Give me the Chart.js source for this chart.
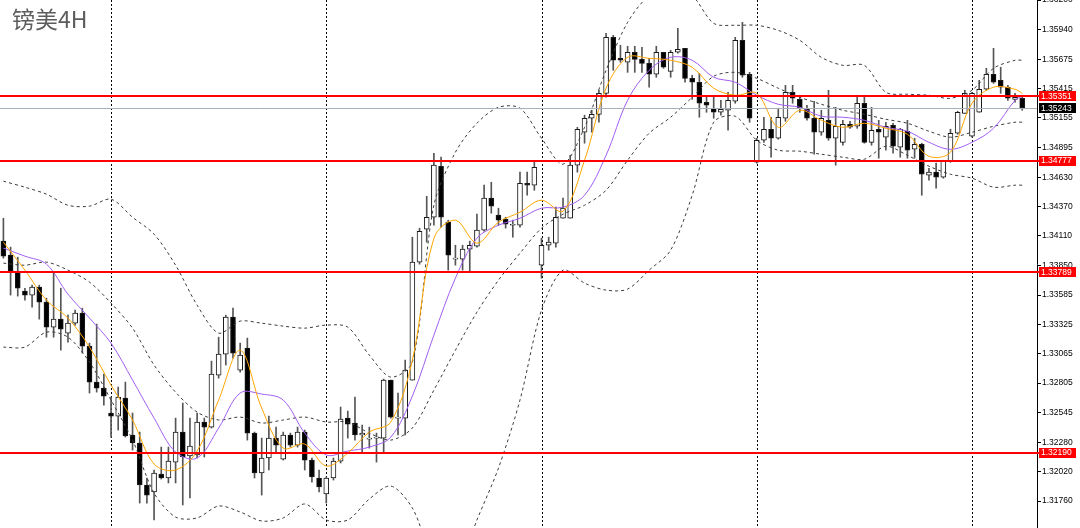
<!DOCTYPE html>
<html>
<head>
<meta charset="utf-8">
<script src="https://cdn.jsdelivr.net/npm/chart.js@4.4.1/dist/chart.umd.min.js"></script>
<style>
    html, body { margin: 0; padding: 0; background: #fff; }
    #wrap { position: relative; width: 1080px; height: 528px; }
    #title { position: absolute; left: 12px; top: 7px; font: 23px/1 "Noto Sans CJK SC", sans-serif; color: #5c5c5c; }
</style>
</head>
<body>
<div id="wrap">
    <canvas id="chart" width="1080" height="528"></canvas>
    <div id="title">镑美4H</div>
</div>
<script>
// GBPUSD 4H candles (index = bar number)
const opens = [1.34063,1.33939,1.33788,1.33620,1.33585,1.33655,1.33522,1.33301,1.33372,1.33248,1.33336,1.33425,1.33133,1.32814,1.32761,1.32540,1.32513,1.32672,1.32345,1.32274,1.31902,1.31840,1.31999,1.31964,1.32105,1.32371,1.32159,1.32168,1.32460,1.32415,1.32876,1.33062,1.33390,1.32920,1.33115,1.32362,1.32008,1.32141,1.32318,1.32132,1.32345,1.32256,1.32371,1.32123,1.31964,1.31822,1.31964,1.32114,1.32495,1.32451,1.32345,1.32309,1.32318,1.32318,1.32832,1.32495,1.32495,1.32832,1.33877,1.34169,1.34275,1.34727,1.34231,1.33903,1.33903,1.33992,1.34018,1.34160,1.34444,1.34293,1.34258,1.34204,1.34204,1.34576,1.34559,1.33850,1.34027,1.34045,1.34266,1.34266,1.34736,1.35028,1.35152,1.35187,1.35373,1.35869,1.35683,1.35648,1.35737,1.35674,1.35639,1.35542,1.35737,1.35568,1.35737,1.35772,1.35506,1.35471,1.35294,1.35241,1.35205,1.35223,1.35303,1.35843,1.35542,1.34762,1.34957,1.35055,1.34975,1.35152,1.35382,1.35320,1.35241,1.35152,1.35028,1.35134,1.34975,1.34939,1.35099,1.35081,1.35285,1.34939,1.35055,1.34984,1.35090,1.34895,1.35037,1.34877,1.34922,1.34647,1.34674,1.34630,1.34771,1.35019,1.35196,1.34993,1.35205,1.35409,1.35542,1.35488,1.35427,1.35320,1.35329];
const highs = [1.34266,1.34010,1.33921,1.33646,1.33673,1.33673,1.33558,1.33779,1.33646,1.33407,1.33452,1.33469,1.33159,1.33328,1.32885,1.32681,1.32770,1.32814,1.32540,1.32371,1.31964,1.32035,1.32238,1.32238,1.32495,1.32628,1.32495,1.32540,1.32495,1.33000,1.33212,1.33407,1.33469,1.33159,1.33204,1.32371,1.32318,1.32513,1.32415,1.32371,1.32362,1.32415,1.32389,1.32141,1.32035,1.31973,1.32141,1.32593,1.32557,1.32681,1.32433,1.32415,1.32362,1.32841,1.32832,1.32717,1.33009,1.34098,1.34178,1.34461,1.34842,1.34807,1.34249,1.34027,1.34027,1.34063,1.34302,1.34559,1.34585,1.34355,1.34275,1.34249,1.34674,1.34674,1.34762,1.34089,1.34098,1.34364,1.34444,1.34824,1.35072,1.35179,1.35223,1.35400,1.35905,1.35887,1.35799,1.35790,1.35790,1.35781,1.35683,1.35790,1.35737,1.35754,1.35949,1.35772,1.35533,1.35550,1.35338,1.35338,1.35311,1.35382,1.35869,1.36002,1.35559,1.34975,1.35161,1.35161,1.35241,1.35444,1.35444,1.35356,1.35267,1.35303,1.35223,1.35400,1.35249,1.35134,1.35125,1.35356,1.35356,1.35249,1.35134,1.35117,1.35108,1.35063,1.35134,1.34975,1.34931,1.34709,1.34754,1.34780,1.35055,1.35214,1.35400,1.35382,1.35488,1.35595,1.35772,1.35604,1.35444,1.35373,1.35338];
const lows = [1.33912,1.33585,1.33576,1.33540,1.33478,1.33372,1.33212,1.33212,1.33097,1.33168,1.33319,1.33071,1.32717,1.32725,1.32610,1.32327,1.32389,1.32327,1.32212,1.31742,1.31742,1.31592,1.31955,1.31920,1.31920,1.31725,1.31787,1.32141,1.32150,1.32407,1.32849,1.32965,1.33027,1.32903,1.32300,1.31964,1.31813,1.32035,1.32185,1.32123,1.32238,1.32238,1.32035,1.31928,1.31840,1.31742,1.31946,1.32097,1.32318,1.32300,1.32185,1.32229,1.32105,1.32194,1.32495,1.32345,1.32345,1.32832,1.33859,1.34054,1.34204,1.34187,1.33806,1.33850,1.33806,1.33788,1.34010,1.34151,1.34311,1.34204,1.34178,1.34098,1.34187,1.34470,1.34514,1.33735,1.33983,1.34010,1.34266,1.34266,1.34674,1.34931,1.35028,1.35117,1.35338,1.35577,1.35648,1.35559,1.35559,1.35559,1.35427,1.35515,1.35595,1.35515,1.35728,1.35471,1.35320,1.35161,1.35205,1.35152,1.35179,1.35046,1.35285,1.35515,1.35117,1.34754,1.34939,1.34807,1.34966,1.35125,1.35285,1.35205,1.35134,1.34833,1.35001,1.34957,1.34736,1.34913,1.35063,1.35063,1.34931,1.34913,1.34798,1.34869,1.34842,1.34807,1.34798,1.34798,1.34470,1.34603,1.34532,1.34621,1.34762,1.35010,1.35196,1.34984,1.35205,1.35400,1.35462,1.35373,1.35311,1.35294,1.35223];
const closes = [1.33930,1.33797,1.33646,1.33585,1.33655,1.33522,1.33301,1.33372,1.33283,1.33336,1.33425,1.33133,1.32814,1.32761,1.32690,1.32513,1.32681,1.32336,1.32274,1.31902,1.31813,1.32008,1.31964,1.32114,1.32371,1.32150,1.32247,1.32460,1.32415,1.32885,1.33062,1.33390,1.33071,1.33053,1.32362,1.32008,1.32141,1.32318,1.32256,1.32345,1.32256,1.32371,1.32123,1.31973,1.31884,1.31964,1.32114,1.32486,1.32442,1.32345,1.32362,1.32318,1.32327,1.32832,1.32504,1.32504,1.32920,1.33877,1.34151,1.34275,1.34736,1.34275,1.33939,1.33912,1.33992,1.34027,1.34160,1.34444,1.34373,1.34249,1.34213,1.34213,1.34576,1.34559,1.34718,1.34027,1.34054,1.34275,1.34355,1.34736,1.35055,1.35152,1.35187,1.35373,1.35869,1.35666,1.35666,1.35737,1.35674,1.35639,1.35542,1.35737,1.35604,1.35737,1.35763,1.35506,1.35471,1.35285,1.35267,1.35205,1.35232,1.35311,1.35843,1.35533,1.35152,1.34957,1.35055,1.34975,1.35161,1.35382,1.35329,1.35241,1.35152,1.35028,1.35152,1.34975,1.35081,1.35099,1.35072,1.35285,1.34939,1.35046,1.35028,1.35081,1.34904,1.35055,1.34869,1.34922,1.34656,1.34674,1.34630,1.34771,1.35019,1.35205,1.35373,1.35373,1.35409,1.35542,1.35471,1.35427,1.35329,1.35338,1.35243];

// indicator lines, sampled every 3 bars
const lineIdx = [0,3,6,9,12,15,18,21,24,27,30,33,36,39,42,45,48,51,54,57,60,63,66,69,72,75,78,81,84,87,90,93,96,99,102,105,108,111,114,117,120,123,126,129,132,135,138,141,142];
const bbUpper = [1.34594,1.34541,1.34479,1.34381,1.34373,1.34435,1.34275,1.34125,1.33850,1.33496,1.33248,1.33354,1.33336,1.33310,1.33292,1.33319,1.33301,1.33053,1.32858,1.32991,1.34381,1.34851,1.35108,1.35249,1.35241,1.34975,1.34745,1.35072,1.35577,1.36002,1.36241,1.36330,1.36241,1.35993,1.35976,1.35976,1.35931,1.35843,1.35692,1.35621,1.35621,1.35382,1.35365,1.35356,1.35329,1.35400,1.35595,1.35666,1.35666];
const bbMiddle = [1.33868,1.33850,1.33877,1.33806,1.33700,1.33514,1.33292,1.32965,1.32725,1.32548,1.32478,1.32504,1.32451,1.32478,1.32504,1.32460,1.32460,1.32362,1.32300,1.32407,1.32743,1.33097,1.33434,1.33717,1.33956,1.34178,1.34302,1.34381,1.34514,1.34780,1.35019,1.35161,1.35338,1.35524,1.35559,1.35506,1.35418,1.35338,1.35276,1.35223,1.35187,1.35143,1.35108,1.35037,1.34984,1.35028,1.35081,1.35117,1.35117];
const bbLower = [1.33124,1.33124,1.33257,1.33212,1.32991,1.32655,1.32300,1.31831,1.31618,1.31610,1.31716,1.31663,1.31583,1.31610,1.31734,1.31592,1.31592,1.31778,1.31893,1.31698,1.31238,1.31105,1.31592,1.32052,1.32655,1.33452,1.33806,1.33691,1.33629,1.33638,1.33806,1.33983,1.34470,1.35117,1.35170,1.34957,1.34869,1.34860,1.34833,1.34807,1.34789,1.34904,1.34824,1.34727,1.34656,1.34621,1.34541,1.34559,1.34559];
const maFast = [1.34054,1.33806,1.33540,1.33381,1.33124,1.32787,1.32478,1.32088,1.32035,1.32203,1.32655,1.33097,1.32584,1.32229,1.32265,1.32070,1.32185,1.32371,1.32460,1.33009,1.34089,1.34249,1.34045,1.34231,1.34319,1.34426,1.34328,1.34780,1.35418,1.35692,1.35683,1.35666,1.35604,1.35418,1.35356,1.35373,1.35072,1.35223,1.35134,1.35072,1.35108,1.35063,1.35010,1.34815,1.34851,1.35285,1.35427,1.35409,1.35373];
const maSlow = [1.34001,1.33930,1.33859,1.33593,1.33381,1.33159,1.32832,1.32495,1.32194,1.32141,1.32407,1.32717,1.32708,1.32655,1.32362,1.32168,1.32203,1.32238,1.32327,1.32690,1.33230,1.33735,1.34089,1.34204,1.34266,1.34355,1.34364,1.34470,1.34824,1.35311,1.35577,1.35692,1.35666,1.35515,1.35471,1.35356,1.35276,1.35249,1.35170,1.35161,1.35134,1.35072,1.35037,1.34939,1.34877,1.34939,1.35063,1.35311,1.35347];

const priceTicks = [1.36200,1.35940,1.35675,1.35415,1.35155,1.34895,1.34630,1.34370,1.34110,1.33850,1.33585,1.33325,1.33065,1.32805,1.32545,1.32280,1.32020,1.31760];
const levels = [1.35351, 1.34777, 1.33789, 1.32190];
const bidPrice = 1.35243;
const weekStarts = [15, 45, 75, 105, 135];

const wickData = lows.map((l, i) => ({ x: i, y: [l, highs[i]] }));
const bodyData = opens.map((o, i) => ({ x: i, y: [o, closes[i]] }));
const bodyColors = opens.map((o, i) => closes[i] >= o ? '#ffffff' : '#000000');
const pts = arr => arr.map((v, i) => ({ x: lineIdx[i], y: v }));

const bandStyle = {
    type: 'line', borderColor: '#3c3c3c', borderWidth: 1, borderDash: [3, 3],
    pointRadius: 0, tension: 0.3, order: 3
};

const overlay = {
    id: 'overlay',
    beforeDatasetsDraw(chart) {
        const { ctx, chartArea: a, scales: { x } } = chart;
        ctx.save();
        ctx.strokeStyle = '#000';
        ctx.lineWidth = 1;
        ctx.setLineDash([2, 2]);
        weekStarts.forEach(i => {
            const px = Math.round(x.getPixelForValue(i)) + 0.5;
            ctx.beginPath();
            ctx.moveTo(px, a.top);
            ctx.lineTo(px, a.bottom);
            ctx.stroke();
        });
        ctx.restore();
    },
    afterDatasetsDraw(chart) {
        const { ctx, chartArea: a, scales: { y } } = chart;
        ctx.save();
        const by = Math.round(y.getPixelForValue(bidPrice)) + 0.5;
        ctx.strokeStyle = '#a9b0b8';
        ctx.lineWidth = 1;
        ctx.beginPath(); ctx.moveTo(a.left, by); ctx.lineTo(a.right, by); ctx.stroke();

        ctx.strokeStyle = '#ff0000';
        ctx.lineWidth = 2;
        levels.forEach(v => {
            const py = Math.round(y.getPixelForValue(v));
            ctx.beginPath(); ctx.moveTo(a.left, py); ctx.lineTo(a.right + 3, py); ctx.stroke();
        });

        // price boxes on the axis
        ctx.font = '8.5px "Liberation Sans", sans-serif';
        ctx.textBaseline = 'middle';
        const box = (v, bg) => {
            const py = y.getPixelForValue(v);
            ctx.fillStyle = bg;
            ctx.fillRect(a.right + 2, Math.round(py) - 5, 37, 10);
            ctx.fillStyle = '#fff';
            ctx.fillText(v.toFixed(5), a.right + 4, py + 0.5);
        };
        levels.forEach(v => box(v, '#ff0000'));
        box(bidPrice, '#000000');
        ctx.restore();
    }
};

new Chart(document.getElementById('chart'), {
    type: 'bar',
    data: {
        datasets: [
            { type: 'line', data: pts(maFast), borderColor: '#ffa500', borderWidth: 1, pointRadius: 0, tension: 0.35, order: 1 },
            { type: 'line', data: pts(maSlow), borderColor: '#a25df2', borderWidth: 1, pointRadius: 0, tension: 0.35, order: 2 },
            { ...bandStyle, data: pts(bbUpper) },
            { ...bandStyle, data: pts(bbMiddle) },
            { ...bandStyle, data: pts(bbLower) },
            {
                data: bodyData, backgroundColor: bodyColors, borderColor: '#1a1a1a', borderWidth: 1,
                borderSkipped: false, barThickness: 5, minBarLength: 1, grouped: false, order: 4
            },
            {
                data: wickData, backgroundColor: '#555555', barThickness: 1, grouped: false, order: 5
            }
        ]
    },
    options: {
        responsive: false,
        animation: false,
        layout: { padding: 0 },
        plugins: { legend: { display: false }, tooltip: { enabled: false } },
        scales: {
            x: { type: 'linear', display: false, min: -0.474, max: 144.06, offset: false },
            y: {
                position: 'right',
                min: 1.31521,
                max: 1.36200,
                afterBuildTicks: scale => { scale.ticks = priceTicks.map(v => ({ value: v })); },
                afterFit: scale => {
                    scale.width = 43;
                    scale.paddingTop = 0;
                    scale.paddingBottom = 0;
                },
                grid: { drawOnChartArea: false, drawTicks: true, tickLength: 4, color: '#000' },
                border: { display: true, color: '#000' },
                ticks: {
                    autoSkip: false, padding: 1, color: '#000',
                    font: { family: 'Liberation Sans', size: 8.5 },
                    callback: v => v.toFixed(5)
                }
            }
        }
    },
    plugins: [overlay]
});
</script>
</body>
</html>
